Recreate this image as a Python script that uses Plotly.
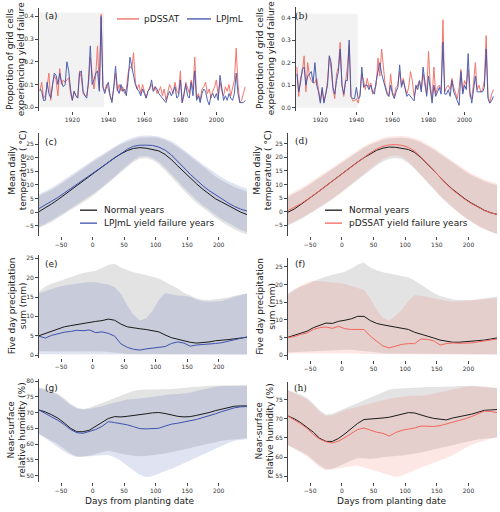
import plotly.graph_objects as go

# ---------------- data: panels (a) and (b) ----------------
years_a = list(range(1902, 2017))
pdssat_a = [.07,.11,.04,.05,.09,.15,.03,.10,.14,.12,
            .05,.17,.10,.12,.11,.12,.13,.06,.03,.07,
            .05,.04,.16,.13,.06,.05,.05,.10,.22,.15,
            .08,.14,.27,.08,.41,.09,.07,.10,.08,.05,
            .03,.08,.15,.07,.10,.07,.09,.06,.08,.15,
            .18,.17,.24,.11,.08,.10,.06,.10,.07,.04,
            .07,.09,.10,.07,.09,.06,.07,.09,.05,.08,
            .03,.06,.10,.08,.06,.11,.07,.06,.16,.02,
            .05,.11,.08,.06,.12,.08,.22,.04,.06,.03,
            .08,.09,.11,.06,.08,.04,.07,.09,.12,.05,
            .11,.07,.05,.09,.07,.10,.05,.08,.12,.26,
            .10,.02,.03,.06,.09]
lpjml_a = [.08,.07,.03,.03,.11,.06,.04,.09,.15,.14,
           .10,.15,.11,.09,.10,.20,.16,.08,.03,.07,
           .05,.04,.15,.16,.07,.05,.04,.12,.27,.10,
           .12,.15,.16,.07,.40,.09,.06,.09,.11,.05,
           .02,.09,.18,.08,.06,.10,.07,.08,.05,.12,
           .22,.18,.14,.10,.08,.07,.05,.08,.06,.04,
           .07,.08,.12,.07,.09,.08,.06,.05,.04,.03,
           .02,.05,.07,.05,.07,.09,.04,.05,.12,.02,
           .06,.10,.05,.04,.11,.05,.16,.03,.05,.02,
           .06,.08,.07,.03,.01,.05,.06,.04,.06,.03,
           .14,.08,.03,.05,.03,.06,.04,.03,.06,.15,
           .06,.02,.02,.02,.03]

years_b = list(range(1907, 2017))
pdssat_b = [.18,.05,.13,.16,.23,.07,.20,.14,.12,.11,
            .11,.13,.08,.03,.08,.03,.06,.12,.23,.17,
            .08,.04,.15,.18,.29,.10,.05,.12,.18,.28,
            .05,.03,.03,.04,.02,.06,.15,.12,.08,.13,
            .09,.11,.06,.08,.10,.22,.14,.26,.16,.10,
            .07,.05,.15,.07,.05,.09,.10,.16,.10,.13,
            .09,.06,.09,.16,.12,.05,.08,.10,.12,.08,
            .15,.10,.06,.25,.10,.04,.18,.06,.09,.10,
            .08,.39,.07,.09,.10,.08,.13,.09,.06,.04,
            .09,.17,.07,.12,.10,.17,.05,.04,.11,.20,
            .08,.10,.07,.08,.12,.32,.05,.02,.06,.08]
lpjml_b = [.15,.07,.11,.17,.18,.10,.14,.15,.16,.11,
           .20,.10,.07,.02,.09,.02,.06,.10,.23,.20,
           .09,.06,.12,.16,.26,.10,.06,.12,.12,.30,
           .05,.04,.04,.09,.04,.05,.18,.09,.10,.10,
           .08,.10,.07,.06,.12,.17,.20,.15,.12,.08,
           .06,.05,.10,.06,.04,.07,.09,.19,.09,.12,
           .08,.05,.06,.05,.04,.03,.10,.08,.12,.07,
           .18,.11,.05,.14,.09,.02,.10,.05,.07,.09,
           .06,.29,.06,.06,.08,.05,.12,.07,.05,.03,
           .01,.16,.06,.10,.08,.24,.07,.02,.07,.14,
           .07,.07,.07,.07,.09,.26,.04,.02,.03,.05]

shade_a = [1901.5, 1937.6]
shade_b = [1906.5, 1940.7]
shade_top = 0.417

# ---------------- data: seasonal panels ----------------
days = [-85,-75,-65,-55,-45,-35,-25,-15,-5,5,15,25,35,45,55,65,75,85,95,105,
        115,125,135,145,155,165,175,185,195,205,215,225,235,245]

# (c) temperature, LPJmL
c_norm = [0.2,1.5,3.0,4.6,6.3,8.0,9.8,11.5,13.3,15.0,16.7,18.4,20.0,21.4,22.6,23.4,23.7,23.5,23.1,22.5,
          21.2,19.3,17.0,14.7,12.5,10.4,8.4,6.5,4.9,3.7,2.4,1.2,0.0,-0.9]
c_fail = [1.3,2.6,4.0,5.4,7.0,8.6,10.2,11.8,13.4,15.0,16.6,18.3,20.0,21.7,23.1,24.2,24.6,24.6,24.5,23.9,
          22.8,21.0,18.8,16.3,13.9,11.7,9.7,7.9,6.3,4.8,3.4,2.1,1.1,0.4]
c_norm_hi = [6.0,7.0,8.2,9.6,11.1,12.7,14.3,15.9,17.6,19.2,20.8,22.3,23.7,24.9,25.9,26.7,27.3,27.5,27.5,27.2,
             26.5,25.4,24.0,22.3,20.4,18.5,16.6,14.8,13.1,11.6,10.3,9.2,8.3,7.6]
c_norm_lo = [-5.8,-4.8,-3.6,-2.3,-0.9,0.6,2.1,3.6,5.1,6.8,8.6,10.5,12.5,14.6,16.6,18.4,19.6,19.9,19.2,17.6,
             15.4,12.9,10.3,7.8,5.5,3.4,1.5,-0.3,-2.0,-3.6,-5.0,-6.3,-7.4,-8.2]
c_fail_hi = [6.6,7.7,9.0,10.4,11.9,13.4,15.0,16.6,18.2,19.8,21.3,22.8,24.2,25.5,26.6,27.5,28.0,28.2,28.1,27.8,
             27.1,26.1,24.7,23.0,21.2,19.3,17.5,15.8,14.2,12.7,11.4,10.3,9.4,8.7]
c_fail_lo = [-5.4,-4.3,-3.0,-1.6,-0.2,1.3,2.8,4.3,5.8,7.4,9.1,11.0,13.0,15.2,17.3,19.2,20.4,20.6,20.0,18.5,
             16.4,14.0,11.5,9.0,6.7,4.5,2.5,0.7,-1.0,-2.6,-4.0,-5.3,-6.5,-7.4]

# (d) temperature, pDSSAT
d_norm = [-0.2,1.0,2.6,4.2,5.9,7.7,9.5,11.3,13.1,14.9,16.6,18.3,19.9,21.4,22.6,23.4,23.8,23.7,23.4,22.9,
          21.8,19.9,17.6,15.1,12.6,10.3,8.2,6.3,4.6,3.1,1.7,0.5,-0.4,-1.0]
d_fail = [0.4,1.5,2.9,4.4,6.0,7.7,9.4,11.2,13.0,14.8,16.6,18.4,20.1,21.7,23.1,24.1,24.6,24.7,24.4,23.7,
          22.3,20.2,17.8,15.2,12.6,10.2,8.0,6.1,4.4,2.9,1.5,0.4,-0.4,-1.0]
d_norm_hi = [5.5,6.6,7.9,9.4,11.0,12.6,14.2,15.8,17.4,19.0,20.6,22.1,23.5,24.7,25.7,26.5,27.0,27.2,27.2,27.0,
             26.4,25.5,24.3,22.9,21.3,19.6,17.9,16.3,14.8,13.4,12.2,11.2,10.4,9.8]
d_norm_lo = [-5.0,-4.0,-2.8,-1.5,-0.1,1.4,2.9,4.5,6.1,7.8,9.6,11.4,13.3,15.2,17.0,18.5,19.5,19.8,19.3,17.9,
             15.8,13.3,10.7,8.1,5.7,3.5,1.4,-0.5,-2.2,-3.8,-5.2,-6.4,-7.4,-8.2]
d_fail_hi = [6.2,7.3,8.6,10.0,11.6,13.2,14.8,16.4,18.0,19.6,21.2,22.7,24.1,25.3,26.4,27.2,27.7,27.9,27.9,27.6,
             27.0,26.1,24.9,23.5,21.9,20.2,18.5,16.9,15.4,14.0,12.8,11.8,11.0,10.4]
d_fail_lo = [-4.8,-3.7,-2.5,-1.2,0.2,1.7,3.2,4.8,6.4,8.1,9.9,11.8,13.8,15.8,17.7,19.3,20.4,20.7,20.1,18.6,
             16.4,13.8,11.1,8.5,6.0,3.7,1.5,-0.5,-2.3,-3.9,-5.3,-6.5,-7.5,-8.3]

# (e) precipitation, LPJmL
e_norm = [5.0,5.6,6.2,6.8,7.3,7.6,7.9,8.2,8.5,8.7,8.9,9.3,9.0,8.0,7.3,7.0,6.8,6.6,6.3,6.0,
          5.2,4.5,4.1,3.6,3.3,3.1,3.2,3.4,3.7,3.8,4.0,4.2,4.4,4.6]
e_fail = [4.9,4.4,5.1,5.5,5.9,6.1,6.4,6.3,6.5,5.8,6.0,5.6,4.9,2.9,2.0,1.5,1.3,1.6,1.8,2.0,
          2.2,3.0,3.4,3.1,2.3,2.6,2.7,2.9,3.0,3.2,3.6,3.9,4.3,4.7]
e_norm_hi = [16.4,17.7,18.4,19.0,19.6,20.3,20.7,21.2,21.5,21.8,22.5,23.3,23.6,22.6,22.0,21.4,21.1,20.6,20.2,19.8,
             19.0,18.1,17.2,16.1,15.3,14.7,14.3,14.2,14.4,14.6,14.9,15.3,15.6,15.9]
e_norm_lo = [1.0,1.0,1.0,1.0,1.0,1.0,1.0,1.0,1.0,0.9,0.9,0.8,0.7,0.5,0.3,0.3,0.2,0.2,0.2,0.2,
             0.2,0.2,0.2,0.2,0.2,0.2,0.2,0.2,0.2,0.2,0.2,0.2,0.2,0.2]
e_fail_hi = [16.0,16.6,17.0,17.6,18.0,18.2,18.4,18.6,18.9,18.8,18.5,18.2,17.6,15.8,12.9,10.4,8.9,9.5,11.4,14.2,
             16.0,15.6,15.4,15.3,15.0,14.3,13.9,13.8,13.9,14.0,14.5,15.0,15.6,16.0]
e_fail_lo = [0.2,0.2,0.2,0.2,0.2,0.2,0.2,0.2,0.2,0.2,0.2,0.2,0.2,0.1,0.1,0.1,0.1,0.1,0.1,0.1,
             0.1,0.1,0.1,0.1,0.1,0.1,0.1,0.1,0.1,0.1,0.1,0.1,0.1,0.1]

# (f) precipitation, pDSSAT
f_norm = [5.1,5.6,6.2,6.8,7.8,8.4,9.1,9.0,9.6,9.9,10.3,11.0,11.0,9.8,9.0,8.6,8.3,8.0,7.7,7.3,
          6.5,6.0,5.6,4.9,4.3,3.9,3.7,3.7,3.8,3.9,4.1,4.3,4.6,4.9]
f_fail = [5.0,5.3,5.9,6.3,7.3,7.8,8.0,7.6,8.2,7.5,7.3,7.2,7.3,5.4,4.0,2.6,2.1,2.6,3.1,3.3,
          3.3,4.6,4.5,4.1,2.9,3.3,3.5,3.4,3.4,3.5,3.8,4.0,4.3,4.6]
f_norm_hi = [17.5,18.6,19.4,20.0,20.9,21.6,22.2,22.7,23.1,23.6,24.5,25.6,26.2,24.8,24.0,23.4,23.1,22.7,22.4,22.0,
             21.1,19.9,18.8,17.6,16.7,16.2,15.8,15.6,15.5,15.6,15.8,16.1,16.4,16.6]
f_norm_lo = [0.8,0.8,0.9,1.0,1.1,1.2,1.3,1.4,1.5,1.6,1.6,1.5,1.3,1.0,0.8,0.6,0.5,0.4,0.4,0.3,
             0.3,0.3,0.3,0.3,0.3,0.3,0.3,0.3,0.3,0.3,0.3,0.3,0.3,0.3]
f_fail_hi = [17.0,18.3,19.6,20.6,21.0,20.9,20.8,20.6,20.4,20.1,19.5,19.0,18.4,16.0,12.8,10.5,9.8,11.2,12.9,15.3,
             17.0,16.8,16.4,16.0,15.7,15.4,15.2,15.2,15.3,15.5,15.6,15.8,16.0,16.1]
f_fail_lo = [0.5,0.5,0.5,0.5,0.5,0.5,0.5,0.5,0.5,0.5,0.5,0.5,0.4,0.4,0.3,0.3,0.2,0.2,0.2,0.2,
             0.2,0.2,0.2,0.2,0.2,0.2,0.2,0.2,0.2,0.2,0.2,0.2,0.2,0.2]

# (g) humidity, LPJmL
g_norm = [70.8,70.2,69.3,68.2,66.7,65.0,63.9,63.9,64.4,65.6,66.9,68.1,68.7,68.6,68.8,69.0,69.3,69.6,69.9,70.0,
          69.7,69.2,68.8,68.6,68.7,69.1,69.5,70.0,70.6,71.1,71.6,72.0,72.1,72.1]
g_fail = [70.8,69.8,68.6,67.5,66.2,64.6,63.6,63.4,63.9,64.6,65.6,67.1,66.8,66.5,66.1,65.5,64.9,64.8,64.9,65.0,
          65.7,66.3,66.6,67.0,67.2,67.8,68.4,68.9,69.6,70.3,70.9,71.5,71.8,71.9]
g_norm_hi = [77.9,77.5,76.8,76.0,74.5,72.8,71.6,71.1,71.5,72.3,73.0,73.7,74.6,75.4,76.2,76.9,77.2,77.2,77.2,77.3,
             77.4,77.5,77.6,77.8,78.0,78.2,78.4,78.5,78.6,78.6,78.6,78.6,78.6,78.6]
g_norm_lo = [63.2,62.2,61.0,59.9,58.5,57.0,56.1,56.0,56.3,56.8,57.4,57.9,57.5,56.9,56.6,56.3,56.1,56.2,56.4,56.6,
             57.0,57.4,57.8,58.2,58.7,59.2,59.7,60.2,60.6,61.0,61.3,61.5,61.7,61.8]
g_fail_hi = [77.9,77.3,76.5,75.6,74.0,72.4,71.3,71.0,71.2,71.5,72.0,72.6,73.1,73.7,74.1,74.3,74.4,74.7,75.0,75.3,
             75.6,75.8,75.9,76.0,76.3,76.8,77.3,77.8,78.2,78.4,78.5,78.6,78.6,78.6]
g_fail_lo = [63.2,61.8,60.3,59.0,57.6,56.5,55.8,55.8,56.0,56.2,56.4,56.5,55.8,54.6,53.2,51.6,50.2,49.5,49.8,50.5,
             51.4,52.1,52.9,53.8,54.7,55.7,56.5,57.5,58.5,59.4,60.3,61.0,61.4,61.6]

# (h) humidity, pDSSAT
h_norm = [70.7,70.0,69.0,67.8,66.5,64.9,64.1,64.1,64.9,66.1,67.5,68.8,69.8,69.9,70.0,70.2,70.4,70.8,71.3,71.6,
          71.5,70.9,70.5,70.1,69.9,69.7,70.2,70.5,70.8,71.2,71.7,72.2,72.3,72.4]
h_fail = [70.7,69.8,68.7,67.5,65.9,64.7,64.0,63.7,64.2,65.1,66.2,67.2,67.6,67.0,66.5,66.2,65.5,66.4,67.0,67.3,
          67.6,68.1,68.1,68.0,68.2,68.6,69.1,69.5,70.0,70.6,71.3,72.0,71.9,71.6]
h_norm_hi = [77.4,76.9,76.3,75.5,74.0,72.2,71.1,71.3,72.0,72.8,73.5,74.1,74.9,75.6,76.3,77.0,77.6,77.8,77.9,78.1,
             78.2,78.3,78.3,78.3,78.3,78.4,78.4,78.5,78.6,78.6,78.5,78.3,78.1,78.0]
h_norm_lo = [63.1,62.4,61.5,60.6,59.3,57.8,56.9,57.0,57.6,58.3,59.1,59.7,59.7,59.5,59.7,60.0,60.2,60.3,60.4,60.6,
             60.9,61.2,61.5,61.9,62.3,62.7,63.1,63.5,63.9,64.3,64.6,64.8,65.0,65.1]
h_fail_hi = [77.4,76.7,75.9,75.1,73.5,71.8,70.7,70.9,71.5,72.3,72.7,73.1,73.6,74.1,74.5,74.9,75.2,75.5,75.8,75.9,
             76.0,76.0,76.2,76.5,76.8,77.2,77.6,78.0,78.3,78.4,78.4,78.3,78.1,78.0]
h_fail_lo = [63.1,62.2,61.2,60.2,58.8,57.4,56.5,56.6,57.0,57.3,57.6,57.8,57.4,56.9,56.2,55.7,55.3,54.8,55.2,55.9,
             56.6,57.3,57.9,58.5,59.1,59.8,60.5,61.4,62.4,63.2,63.8,64.3,64.8,65.1]

# ---------------- styling ----------------
W, H = 500, 512
FONT = "DejaVu Sans"
SERIF = "DejaVu Serif"
RED = "#f2675c"
BLUE = "#3d52ad"
BLACK = "#1a1a1a"
GREY_BAND = "rgba(0,0,0,0.11)"
BLUE_BAND = "rgba(61,82,173,0.16)"
RED_BAND = "rgba(242,103,92,0.16)"
AX = "#444444"
TXT = "#222222"

def fx(p):
    return p / W

def fy(p):
    return 1 - p / H

# panel: name, x-left, x-right, y-top, y-bottom (pixels), x range, y range, y ticks, label font
panels = [
    ("a", 39, 247, 7, 110, [1901.5, 2017.0], [-0.015, 0.437], [0, 0.1, 0.2, 0.3, 0.4], FONT),
    ("b", 296, 497, 6, 110, [1906.5, 2018.0], [-0.013, 0.447], [0, 0.1, 0.2, 0.3, 0.4], SERIF),
    ("c", 39, 247, 133, 236, [-85, 245], [-8.8, 28.9], [-5, 0, 5, 10, 15, 20, 25], FONT),
    ("d", 288, 497, 133, 236, [-85, 245], [-9.0, 28.8], [-5, 0, 5, 10, 15, 20, 25], SERIF),
    ("e", 39, 247, 255, 358, [-85, 245], [-0.65, 25.85], [0, 5, 10, 15, 20, 25], FONT),
    ("f", 288, 497, 258, 360, [-85, 245], [-1.2, 27.45], [0, 5, 10, 15, 20, 25], FONT),
    ("g", 39, 247, 379, 483, [-85, 245], [47.9, 80.8], [50, 55, 60, 65, 70, 75, 80], FONT),
    ("h", 288, 497, 382, 483, [-85, 245], [53.5, 79.7], [55, 60, 65, 70, 75], SERIF),
]
label_pos = {"a": (43, 15), "b": (292.5, 15), "c": (43, 141.5), "d": (292.5, 141),
             "e": (43, 264), "f": (292.5, 264), "g": (43, 389), "h": (291.5, 388.5)}
ytitles = {
    "a": ("Proportion of grid cells<br>experiencing yield failure", 16, 58.5),
    "b": ("Proportion of grid cells<br>experiencing yield failure", 266, 57.5),
    "c": ("Mean daily<br>temperature ( °C)", 18, 170),
    "d": ("Mean daily<br>temperature ( °C)", 263, 170),
    "e": ("Five day precipitation<br>sum (mm)", 17.5, 306),
    "f": ("Five day precipitation<br>sum (mm)", 266, 307),
    "g": ("Near-surface<br>relative humidity (%)", 17, 431),
    "h": ("Near-surface<br>relative humidity (%)", 265, 432),
}

fig = go.Figure()
layout = dict(width=W, height=H, margin=dict(l=0, r=0, t=0, b=0),
              paper_bgcolor="white", plot_bgcolor="white",
              font=dict(family=FONT, size=9, color=TXT), showlegend=False)
annotations = []
shapes = []

for i, (name, xl, xr, yt, yb, xr_, yr_, yt_vals, lfont) in enumerate(panels, start=1):
    sfx = "" if i == 1 else str(i)
    layout["xaxis" + sfx] = dict(domain=[fx(xl), fx(xr)], range=xr_, anchor="y" + sfx,
                                 showline=False, showgrid=False, zeroline=False,
                                 ticks="outside", ticklen=3, tickwidth=0.8, tickcolor=AX,
                                 tickfont=dict(size=6, color="#333333"),
                                 tickvals=[1920, 1940, 1960, 1980, 2000] if name in "ab"
                                 else [-50, 0, 50, 100, 150, 200])
    layout["yaxis" + sfx] = dict(domain=[fy(yb), fy(yt)], range=yr_, anchor="x" + sfx,
                                 showline=True, linecolor=AX, linewidth=0.8,
                                 showgrid=False, zeroline=False,
                                 ticks="outside", ticklen=3, tickwidth=0.8, tickcolor=AX,
                                 tickfont=dict(size=6, color="#333333"),
                                 tickvals=yt_vals,
                                 tickformat=".1f" if name in "ab" else "d")
    lx, ly = label_pos[name]
    annotations.append(dict(text="(%s)" % name, x=fx(lx), y=fy(ly), xref="paper", yref="paper",
                            xanchor="left", yanchor="middle", showarrow=False,
                            font=dict(family=lfont, size=9, color=TXT)))
    t, tx, ty = ytitles[name]
    annotations.append(dict(text=t, x=fx(tx), y=fy(ty), xref="paper", yref="paper",
                            xanchor="center", yanchor="middle", textangle=-90, showarrow=False,
                            font=dict(family=FONT, size=9, color=TXT)))

# x titles on the bottom row
for cx in (140, 392):
    annotations.append(dict(text="Days from planting date", x=fx(cx), y=fy(502), xref="paper", yref="paper",
                            xanchor="center", yanchor="middle", showarrow=False,
                            font=dict(family=FONT, size=9, color=TXT)))

# shaded early period in (a) and (b)
for sh, ax in ((shade_a, ""), (shade_b, "2")):
    shapes.append(dict(type="rect", xref="x" + ax, yref="y" + ax, x0=sh[0], x1=sh[1], y0=0, y1=shade_top,
                       fillcolor="#f2f2f2", line=dict(width=0), layer="below"))

# legends (drawn as key lines + labels)
legend_items = [
    # (x0, x1, y, color, label, text-x)
    (117, 139, 18, RED, "pDSSAT", 142),
    (187, 211, 18, BLUE, "LPJmL", 214),
    (80, 97, 210, BLACK, "Normal years", 102),
    (80, 97, 223, BLUE, "LPJmL yield failure years", 102),
    (325, 342, 210, BLACK, "Normal years", 347),
    (325, 342, 223, RED, "pDSSAT yield failure years", 347),
]
for x0, x1, yy, colr, lab, tx in legend_items:
    shapes.append(dict(type="line", xref="paper", yref="paper", x0=fx(x0), x1=fx(x1), y0=fy(yy), y1=fy(yy),
                       line=dict(color=colr, width=1.3)))
    annotations.append(dict(text=lab, x=fx(tx), y=fy(yy), xref="paper", yref="paper",
                            xanchor="left", yanchor="middle", showarrow=False,
                            font=dict(family=FONT, size=9, color=TXT)))

# time series
fig.add_trace(go.Scatter(x=years_a, y=pdssat_a, mode="lines", name="pDSSAT",
                         line=dict(color=RED, width=1), opacity=0.9, xaxis="x", yaxis="y"))
fig.add_trace(go.Scatter(x=years_a, y=lpjml_a, mode="lines", name="LPJmL",
                         line=dict(color=BLUE, width=1), opacity=0.9, xaxis="x", yaxis="y"))
fig.add_trace(go.Scatter(x=years_b, y=pdssat_b, mode="lines", name="pDSSAT",
                         line=dict(color=RED, width=1), opacity=0.9, xaxis="x2", yaxis="y2"))
fig.add_trace(go.Scatter(x=years_b, y=lpjml_b, mode="lines", name="LPJmL",
                         line=dict(color=BLUE, width=1), opacity=0.9, xaxis="x2", yaxis="y2"))

def band(hi, lo, color, ax):
    return go.Scatter(x=days + days[::-1], y=hi + lo[::-1], fill="toself", fillcolor=color,
                      mode="lines", line=dict(width=0), hoverinfo="skip",
                      xaxis="x" + ax, yaxis="y" + ax)

seasonal = [
    ("3", c_norm, c_fail, c_norm_hi, c_norm_lo, c_fail_hi, c_fail_lo, "LPJmL"),
    ("4", d_norm, d_fail, d_norm_hi, d_norm_lo, d_fail_hi, d_fail_lo, "pDSSAT"),
    ("5", e_norm, e_fail, e_norm_hi, e_norm_lo, e_fail_hi, e_fail_lo, "LPJmL"),
    ("6", f_norm, f_fail, f_norm_hi, f_norm_lo, f_fail_hi, f_fail_lo, "pDSSAT"),
    ("7", g_norm, g_fail, g_norm_hi, g_norm_lo, g_fail_hi, g_fail_lo, "LPJmL"),
    ("8", h_norm, h_fail, h_norm_hi, h_norm_lo, h_fail_hi, h_fail_lo, "pDSSAT"),
]
for ax, nrm, fail, nhi, nlo, fhi, flo, model in seasonal:
    col = BLUE if model == "LPJmL" else RED
    bcol = BLUE_BAND if model == "LPJmL" else RED_BAND
    fig.add_trace(band(nhi, nlo, GREY_BAND, ax))
    fig.add_trace(band(fhi, flo, bcol, ax))
    fig.add_trace(go.Scatter(x=days, y=nrm, mode="lines", name="Normal years",
                             line=dict(color=BLACK, width=1), xaxis="x" + ax, yaxis="y" + ax))
    fig.add_trace(go.Scatter(x=days, y=fail, mode="lines", name=model + " yield failure years",
                             line=dict(color=col, width=1), xaxis="x" + ax, yaxis="y" + ax))

layout["annotations"] = annotations
layout["shapes"] = shapes
fig.update_layout(**layout)

fig.write_html("out.html")
